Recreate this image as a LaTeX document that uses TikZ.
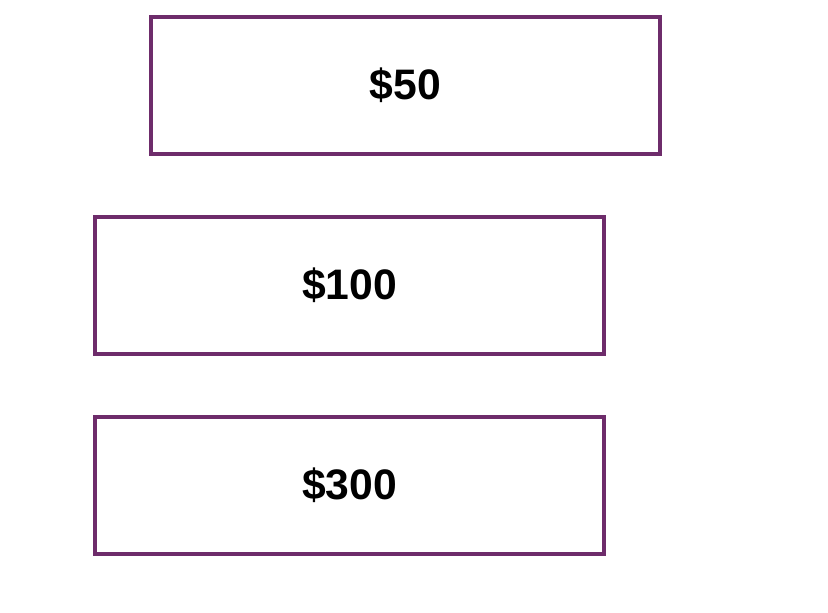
\documentclass[tikz,border=0pt]{standalone}
\usepackage{fontspec}
\setmainfont{Liberation Sans}
\definecolor{boxpurple}{HTML}{6E2C6B}
\begin{document}
\begin{tikzpicture}[x=0.75pt,y=-0.75pt,
  pricebox/.style={draw=boxpurple,line width=3pt,minimum width=509*0.75pt,minimum height=137*0.75pt,inner sep=0pt,font=\fontsize{32}{36}\selectfont\bfseries,text=black}]
\useasboundingbox (0,0) rectangle (828,612);
\node[pricebox] (b50) at (405.5,85.5) {\$50};
\node[pricebox] (b100) at (349.5,285.5) {\$100};
\node[pricebox] (b300) at (349.5,485.5) {\$300};
\end{tikzpicture}
\end{document}
